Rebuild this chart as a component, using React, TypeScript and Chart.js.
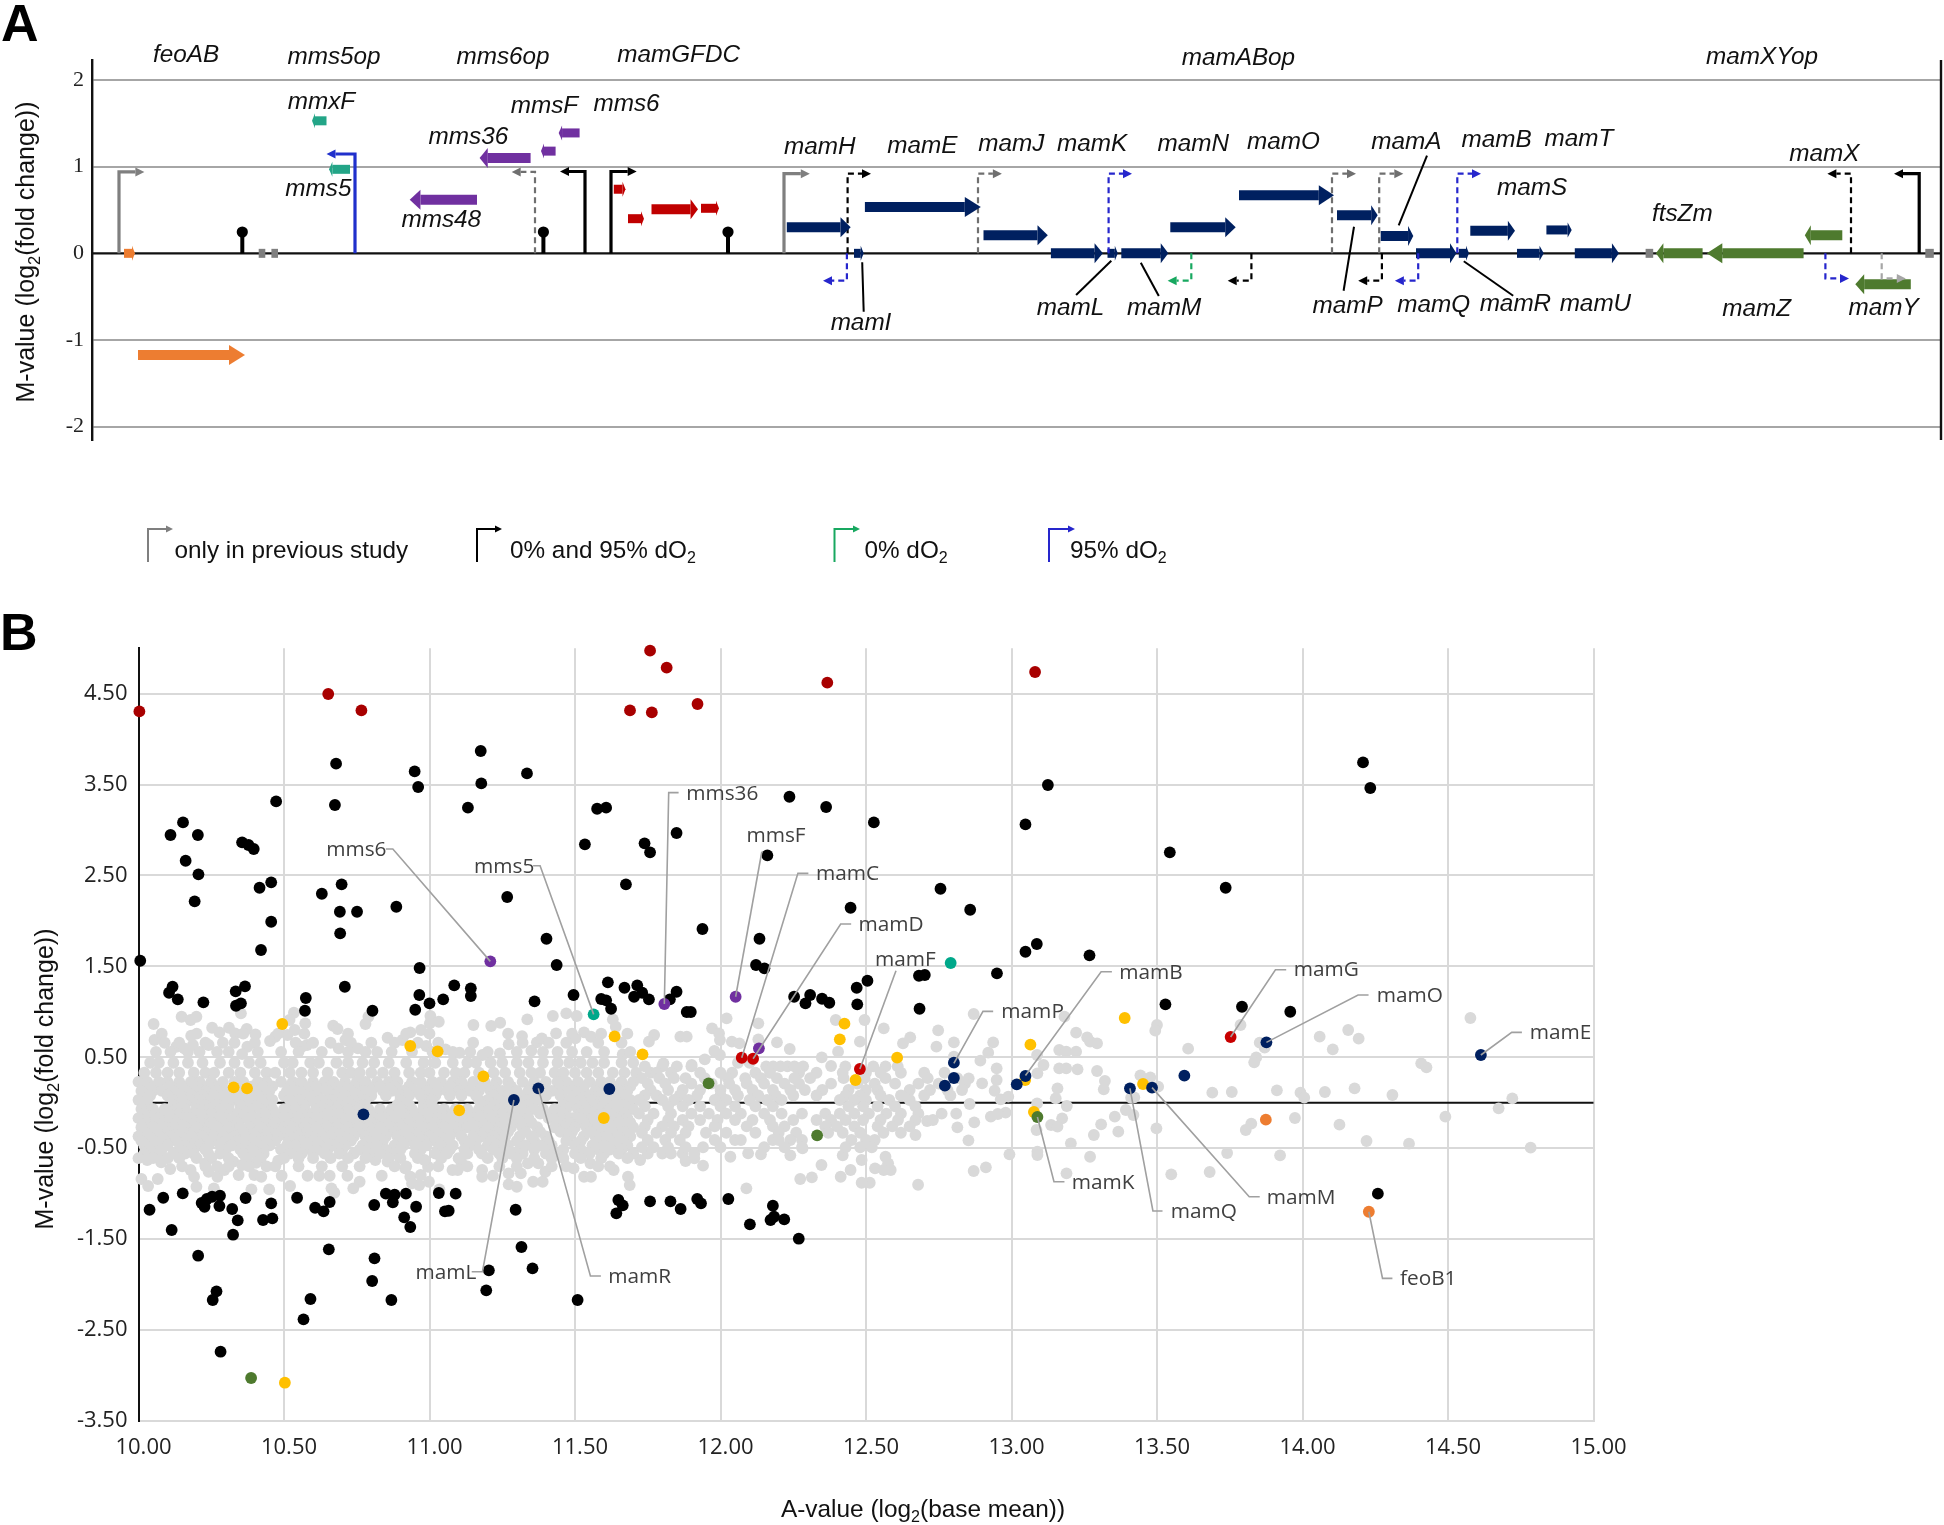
import { useEffect, useRef } from "react";
import { Chart, registerables } from "chart.js";

Chart.register(...registerables);

const W = 1944;
const H = 1525;
const SANS = '"Liberation Sans", Arial, sans-serif';
const CAL = '"Open Sans", sans-serif';

/* ---------- Panel A: locus position (arbitrary units), M-value ---------- */
const aTicks = [2, 1, 0, -1, -2];
const orangeGenes = [[32, 43, 0], [46, 153, -1.175]];
const tealGenes = [[234.5, 220, 1.53], [258, 237, 0.97]];
const purpleGenes = [[385, 317.7, 0.62], [438.6, 387.6, 1.1], [463.6, 449, 1.18], [487.6, 466.7, 1.39]];
const redGenes = [[521.8, 533.5, 0.74], [536, 552, 0.4], [559.5, 606, 0.51], [609, 627, 0.52]];
const navyGenes = [
  [694.8, 758.7, 0.3], [762, 771.7, 0], [772.9, 888.8, 0.535], [891.5, 955.8, 0.21], [958.9, 1010.9, 0],
  [1015.5, 1025.8, 0], [1029.3, 1076.3, 0], [1078.3, 1143.7, 0.3], [1147, 1242, 0.67], [1245, 1285.7, 0.44],
  [1288.7, 1321.3, 0.2], [1324, 1364.5, 0], [1366.8, 1377, 0], [1378.3, 1423, 0.26], [1425, 1451.8, 0],
  [1454.4, 1479.7, 0.27], [1482.8, 1527, 0],
];
const greenGenes = [[1610.6, 1563.9, 0], [1711.6, 1614.8, 0], [1750.3, 1712.8, 0.21], [1818.8, 1763.3, -0.358]];
const greyBlocks = [[166.7, 173.3], [179.4, 186], [1553.6, 1561.2], [1833.3, 1841.8]];
const solidPromoters = [
  [27, 0.94, 52.4, "#7f7f7f"], [263, 1.147, 234.5, "#2030cc"], [493, 0.945, 468, "#000000"],
  [519, 0.945, 544.7, "#000000"], [692, 0.92, 717.8, "#7f7f7f"], [1827.2, 0.92, 1802, "#000000"],
];
const dashedPromoters = [
  [443, 0.94, 419.7, "#6f6f6f"], [755.6, 0.92, 779, "#000000"], [754.9, -0.316, 731, "#2626cc"],
  [886, 0.92, 909.9, "#6f6f6f"], [1016.6, 0.92, 1040, "#2626cc"], [1099.3, -0.316, 1075.6, "#18a860"],
  [1159.4, -0.316, 1135.7, "#000000"], [1240, 0.92, 1264, "#6f6f6f"], [1287.2, 0.92, 1311.3, "#6f6f6f"],
  [1289.9, -0.316, 1266.2, "#000000"], [1326.2, -0.316, 1302.9, "#2626cc"], [1365.3, 0.92, 1389, "#2626cc"],
  [1759, 0.92, 1735.4, "#000000"], [1733.4, -0.29, 1757, "#2626cc"], [1789.7, -0.29, 1813.8, "#a6a6a6"],
];
const terminators = [150.3, 451.4, 636];
const geneLeaders = [
  [770.2, -0.104, 771.7, -0.674], [1019.3, -0.085, 984.1, -0.48], [1048.8, -0.108, 1066.8, -0.493],
  [1262, 0.307, 1251.6, -0.432], [1335, 1.127, 1306.7, 0.323], [1371.8, -0.092, 1421.2, -0.49],
];
const geneLabels = [
  ["feoAB", 186, 55], ["mms5op", 334, 57.5], ["mms6op", 503, 57.5], ["mamGFDC", 678.6, 55], ["mamABop", 1238.4, 58],
  ["mamXYop", 1762, 57.5], ["mmxF", 321.4, 102], ["mmsF", 544.4, 106], ["mms6", 626.5, 104], ["mms36", 468.4, 137],
  ["mms5", 318.4, 189.5], ["mms48", 441.3, 220], ["mamH", 819.7, 147], ["mamE", 922.3, 146.5], ["mamJ", 1011.4, 144.5],
  ["mamK", 1092.2, 144], ["mamN", 1193.2, 144], ["mamO", 1283.5, 142], ["mamA", 1406.4, 142], ["mamB", 1496.7, 140.5],
  ["mamT", 1579, 139.5], ["mamS", 1532, 188.5], ["mamX", 1824.3, 154.5], ["ftsZm", 1682.3, 214], ["mamI", 861, 323.5],
  ["mamL", 1070.4, 308.5], ["mamM", 1164.1, 308], ["mamP", 1347.6, 306], ["mamQ", 1433.6, 305], ["mamR", 1515.4, 304.5],
  ["mamU", 1595.4, 304.5], ["mamZ", 1756.6, 309.5], ["mamY", 1883.6, 308],
];

/* ---------- Panel B: A-value, M-value ---------- */
const bXTicks = [10, 10.5, 11, 11.5, 12, 12.5, 13, 13.5, 14, 14.5, 15];
const bYTicks = [4.5, 3.5, 2.5, 1.5, 0.5, -0.5, -1.5, -2.5, -3.5];

const blackPoints = [
  [10.006,1.562],[10.117,1.276],[10.105,1.21],[10.135,1.137],[10.223,1.104],[10.11,2.945],[10.153,3.084],[10.204,2.945],[10.162,2.662],[10.206,2.512],[10.193,2.215],
  [10.334,1.225],[10.366,1.28],[10.335,1.067],[10.352,1.093],[10.356,2.864],[10.378,2.835],[10.396,2.791],[10.473,3.315],[10.416,2.365],[10.456,2.424],[10.456,1.991],[10.421,1.68],
  [10.575,1.152],[10.572,1.012],[10.679,3.73],[10.675,3.275],[10.63,2.299],[10.698,2.402],[10.692,2.101],[10.751,2.101],[10.693,1.863],[10.709,1.276],[10.804,1.012],[10.886,2.156],
  [10.949,3.645],[10.961,3.473],[10.966,1.482],[10.965,1.185],[10.951,1.023],[11,1.093],[11.047,1.137],[11.085,1.291],[11.142,1.258],[11.142,1.174],[11.132,3.246],[11.176,3.869],[11.178,3.513],
  [11.335,3.623],[11.267,2.263],[11.402,1.804],[11.437,1.515],[11.361,1.115],[11.495,1.185],[11.534,2.842],[11.576,3.234],[11.607,3.246],[11.675,2.402],[11.739,2.853],[11.758,2.754],
  [11.613,1.324],[11.59,1.141],[11.607,1.126],[11.624,1.034],[11.67,1.265],[11.714,1.291],[11.731,1.21],[11.703,1.166],[11.754,1.137],
  [11.849,2.967],[12.237,3.366],[12.363,3.253],[12.527,3.084],[13.125,3.495],[13.048,3.062],[13.544,2.754],[12.756,2.354],[12.858,2.123],[12.447,2.145],[12.161,2.721],[11.938,1.911],
  [12.134,1.804],[12.122,1.515],[12.151,1.478],[13.087,1.746],[13.048,1.661],[13.268,1.621],[12.95,1.423],[12.682,1.397],[12.702,1.405],[12.505,1.342],[12.468,1.265],[12.47,1.082],[12.684,1.034],
  [12.308,1.185],[12.253,1.166],[12.292,1.093],[12.349,1.144],[12.374,1.1],[11.849,1.221],[11.826,1.137],[11.884,0.998],[11.898,0.998],[13.529,1.082],
  [14.208,3.744],[14.233,3.462],[13.736,2.365],[13.792,1.056],[13.958,1.001],[14.259,-1.0],
  [10.038,-1.177],[10.085,-1.045],[10.152,-0.997],[10.114,-1.4],[10.217,-1.103],[10.227,-1.144],[10.235,-1.059],[10.253,-1.034],[10.28,-1.023],[10.278,-1.136],[10.322,-1.169],[10.368,-1.048],
  [10.341,-1.294],[10.325,-1.452],[10.428,-1.29],[10.46,-1.272],[10.456,-1.107],[10.205,-1.683],[10.268,-2.075],[10.255,-2.17],[10.282,-2.739],[10.545,-1.045],[10.607,-1.155],[10.636,-1.195],
  [10.657,-1.092],[10.654,-1.613],[10.591,-2.159],[10.567,-2.383],[10.81,-1.125],[10.85,-1.0],[10.88,-1.012],[10.874,-1.096],[10.919,-1.0],[10.954,-1.144],[10.913,-1.261],[10.934,-1.367],
  [10.811,-1.712],[10.803,-1.961],[10.869,-2.17],[11.032,-0.993],[11.09,-1.0],[11.053,-1.195],[11.066,-1.188],[11.296,-1.177],[11.316,-1.587],[11.354,-1.822],[11.204,-1.844],[11.195,-2.064],[11.509,-2.17],
  [11.649,-1.07],[11.664,-1.129],[11.642,-1.217],[11.758,-1.085],[11.828,-1.085],[11.863,-1.169],[11.92,-1.059],[11.933,-1.107],[12.027,-1.059],[12.101,-1.338],[12.18,-1.133],[12.184,-1.254],[12.172,-1.29],[12.219,-1.283],[12.269,-1.496],
];
const darkRedPoints = [[10.003,4.305],[10.652,4.496],[10.766,4.316],[11.689,4.316],[11.758,4.973],[11.764,4.294],[11.815,4.786],[11.921,4.386],[12.367,4.621],[13.081,4.738]];
const redPoints = [[12.073,0.495],[12.112,0.484],[12.479,0.371],[13.753,0.723]];
const goldPoints = [
  [10.494,0.866],[10.934,0.624],[11.028,0.565],[11.636,0.73],[11.732,0.532],[11.185,0.29],[10.327,0.169],[10.373,0.158],[11.102,-0.084],[11.599,-0.168],[10.503,-3.08],
  [12.426,0.87],[12.41,0.697],[12.607,0.496],[12.464,0.25],[13.065,0.639],[13.389,0.932],[13.047,0.25],[13.077,-0.102],[13.452,0.206],
];
const navyPoints = [[10.773,-0.128],[11.29,0.03],[11.374,0.158],[11.618,0.151],[12.802,0.441],[12.802,0.272],[12.771,0.188],[13.018,0.202],[13.048,0.294],[13.407,0.158],[13.483,0.166],[13.594,0.298],[13.876,0.664],[14.613,0.525]];
const purplePoints = [[11.209,1.555],[11.807,1.086],[12.052,1.166],[12.132,0.598]];
const tealPoints = [[11.564,0.972],[12.791,1.537]];
const greenPoints = [[11.959,0.213],[12.332,-0.359],[13.089,-0.157],[10.387,-3.028]];
const orangePoints = [[13.874,-0.186],[14.228,-1.199]];

const greySparse = [
  [14.577,0.932],[14.059,0.727],[14.157,0.8],[14.193,0.705],[14.104,0.587],[13.5,0.855],[13.494,0.793],[13.607,0.595],[13.787,0.855],[13.853,0.661],[13.87,0.606],[13.841,0.499],[13.834,0.444],[14.408,0.433],[14.426,0.389],
  [13.69,0.111],[13.757,0.118],[13.912,0.136],[13.993,0.111],[14.006,0.056],[14.077,0.118],[14.179,0.158],[14.309,0.085],[14.721,0.048],[14.674,-0.062],[14.491,-0.153],[14.127,-0.241],[13.974,-0.168],[13.824,-0.23],[13.805,-0.3],
  [14.22,-0.421],[14.366,-0.45],[14.784,-0.494],[13.923,-0.579],[13.741,-0.553],[13.681,-0.762],[13.549,-0.788],[13.498,-0.282],[13.419,-0.135],[13.443,0.301],[13.477,0.279],[13.504,0.177],[13.422,0.059],
  [12.87,0.976],[13.182,0.947],[12.748,0.796],[12.652,0.719],[12.627,0.653],[12.742,0.617],[12.802,0.664],[12.802,0.507],[12.937,0.664],[12.92,0.551],[12.893,0.463],[12.949,0.378],[12.949,0.25],[12.853,0.268],[12.899,0.213],[12.942,0.132],
  [13.222,0.771],[13.26,0.719],[13.27,0.672],[13.294,0.653],[13.164,0.58],[13.188,0.562],[13.222,0.562],[13.164,0.378],[13.188,0.378],[13.227,0.367],[13.294,0.349],[13.321,0.239],[13.317,0.147],[13.088,0.525],[13.11,0.415],[13.089,0.323],
  [13.158,0.158],[13.152,0.048],[13.088,-0.007],[13.19,-0.036],[13.174,-0.172],[13.136,-0.245],[13.158,-0.263],[13.086,-0.3],[13.355,-0.153],[13.308,-0.238],[13.283,-0.355],[13.367,-0.318],[13.204,-0.447],[13.27,-0.594],[13.089,-0.538],[13.089,-0.575],
  [12.993,-0.568],[12.912,-0.711],[12.87,-0.751],[13.189,-0.777],[12.98,-0.109],[12.953,-0.124],[12.929,-0.153],[12.989,0.067],[12.963,0.037],[12.856,-0.014],[12.814,-0.271],[12.872,-0.216],[12.852,-0.414],[12.71,-0.201],[12.67,-0.355],[12.679,-0.902],
  [12.567,-0.594],[12.576,-0.667],[12.531,-0.722],[12.561,-0.74],[12.585,-0.74],[12.513,-0.88],[12.485,-0.88],[12.485,-0.63],[12.447,-0.74],[12.413,-0.814],[12.347,-0.685],[12.42,-0.579],[12.314,-0.821],[12.274,-0.839],[12.282,-0.502],[12.24,-0.579],
  [12.089,-0.942],[12.139,-0.568],[12.095,-0.557],[12.034,-0.594],[11.94,-0.692],[11.91,-0.612],[11.88,-0.641],[13.411,0.055],[13.393,-0.08],
  [12.021,0.928],[11.971,0.818],[11.995,0.763],[11.998,0.69],[11.772,0.745],[11.754,0.672],[11.862,0.727],[11.884,0.727],[12.13,0.873],[12.13,0.697],[12.194,0.664],[12.039,0.672],[12.065,0.653],[12.238,0.591],[11.979,0.569],[11.998,0.525],[11.946,0.477],[11.901,0.415],[11.804,0.433],
  [12.396,0.91],[12.495,0.91],[12.561,0.818],[12.479,0.672],[12.404,0.562],[12.348,0.499],[12.38,0.404],
  [10.052,0.866],[10.148,0.946],[10.179,0.91],[10.199,0.946],[10.352,0.983],[10.534,0.99],[10.519,0.91],[10.573,0.873],[10.669,0.847],[10.684,0.811],[10.79,0.946],[10.78,0.866],[10.253,0.825],[10.278,0.774],[10.311,0.825],[10.332,0.763],[10.372,0.811],[10.402,0.752],
  [10.055,0.69],[10.181,0.737],[11.003,0.954],[11.032,0.891],[11.001,0.873],[10.971,0.8],[10.934,0.774],[10.907,0.69],[10.856,0.715],[11.151,0.855],[11.212,0.844],[11.243,0.88],[11.336,0.917],[11.424,0.954],[11.47,0.983],[11.506,0.954],[11.63,0.917],[11.64,0.836],
  [11.318,0.733],[11.531,0.774],[11.501,0.708],[11.435,0.763],[11.369,0.664],[11.386,0.708],[11.272,0.642],[11.555,0.726],[10.452,0.679],[10.47,0.726],[10.512,0.745],[10.537,0.8],[10.711,0.69],[10.754,0.598],[10.13,0.616],[10.157,0.598],[10.187,0.635],[10.241,0.635],
  [10.374,0.616],[10.356,0.535],[10.579,0.635],[10.561,0.616],[10.688,0.598],[10.989,0.624],[11.055,0.587],[11.103,0.55],[11.182,0.525],[11.242,0.543],[11.35,0.572],[11.664,0.532],
  [10.01,-0.839],[10.033,-0.916],[10.066,-0.839],[10.03,-0.63],[10.078,-0.656],[10.109,-0.729],[10.179,-0.74],[10.191,-0.814],[10.199,-0.924],[10.229,-0.667],[10.241,-0.759],[10.271,-0.814],[10.259,-0.942],[10.295,-0.74],[10.326,-0.648],[10.344,-0.795],[10.356,-0.685],
  [10.404,-0.66],[10.398,-0.795],[10.422,-0.814],[10.388,-0.953],[10.449,-0.953],[10.48,-0.637],[10.492,-0.803],[10.521,-0.916],[10.581,-0.803],[10.621,-0.803],[10.657,-0.803],[10.663,-0.942],[10.673,-0.99],[10.718,-0.803],[10.76,-0.869],[10.738,-0.942],[10.836,-0.803],
  [10.814,-0.63],[10.856,-0.648],[10.916,-0.722],[10.934,-0.814],[10.94,-0.887],[10.965,-0.906],[10.998,-0.869],[10.97,-0.795],[10.995,-0.704],[10.983,-0.63],[11.034,-0.953],[11.079,-0.74],[11.097,-0.74],[11.109,-0.648],[11.181,-0.74],[11.181,-0.814],[11.218,-0.803],
  [11.272,-0.777],[11.272,-0.898],[11.3,-0.924],[11.314,-0.777],[11.338,-0.667],[11.356,-0.869],[11.389,-0.869],[11.398,-0.759],[11.374,-0.667],[11.495,-0.722],[11.531,-0.814],[11.553,-0.667],[11.555,-0.814],[11.633,-0.74],[11.682,-0.814],[11.688,-0.906],[11.724,-0.63],
];
const greyRows = [
  [0.76, [10.08,10.2,10.36,10.48,10.57,10.72,10.92,11.0,11.27,11.49,11.59,11.68]],
  [0.66, [10.09,10.14,10.23,10.29,10.33,10.4,10.54,10.6,10.66,10.73,10.8,10.88,10.96,11.03,11.15,11.32,11.41,11.47,11.58,11.66]],
  [0.56, [10.06,10.11,10.17,10.21,10.27,10.31,10.41,10.49,10.55,10.63,10.72,10.78,10.82,10.87,10.94,11.01,11.08,11.14,11.2,11.3,11.39,11.44,11.49,11.54,11.6,11.69]],
  [0.44, [10.04,10.07,10.12,10.17,10.22,10.28,10.33,10.38,10.42,10.5,10.53,10.59,10.62,10.68,10.72,10.77,10.81,10.86,10.92,10.98,11.02,11.08,11.13,11.16,11.21,11.25,11.3,11.34,11.39,11.44,11.48,11.52,11.56,11.6,11.66,11.7,12.06,12.1]],
  [0.33, [10.02,10.06,10.1,10.14,10.19,10.23,10.26,10.31,10.35,10.4,10.44,10.47,10.52,10.56,10.6,10.65,10.7,10.73,10.76,10.8,10.84,10.88,10.93,10.97,11,11.05,11.09,11.12,11.17,11.22,11.26,11.31,11.35,11.38,11.43,11.46,11.5,11.54,11.58,11.63,11.67,11.71,11.76]],
  [0.23, [10,10.03,10.07,10.1,10.14,10.18,10.21,10.25,10.29,10.33,10.36,10.41,10.44,10.49,10.53,10.56,10.6,10.64,10.67,10.71,10.75,10.78,10.82,10.86,10.89,10.94,10.97,11.01,11.04,11.08,11.11,11.15,11.19,11.23,11.27,11.32,11.36,11.4,11.44,11.47,11.51,11.55,11.59,11.62,11.66,11.7]],
  [0.18, [10.02,10.06,10.11,10.15,10.19,10.24,10.28,10.34,10.39,10.43,10.46,10.52,10.57,10.61,10.66,10.7,10.74,10.79,10.83,10.88,10.93,10.98,11.02,11.07,11.12,11.18,11.22,11.28,11.35,11.39,11.45,11.5,11.53,11.58,11.63,11.69]],
  [0.13, [10.01,10.05,10.08,10.12,10.16,10.2,10.23,10.27,10.31,10.35,10.38,10.42,10.45,10.51,10.54,10.58,10.62,10.65,10.69,10.73,10.77,10.8,10.84,10.87,10.91,10.95,10.99,11.03,11.06,11.1,11.14,11.17,11.21,11.25,11.3,11.34,11.38,11.42,11.46,11.49,11.53,11.57,11.61,11.65,11.68]],
  [0.08, [10.02,10.04,10.1,10.14,10.18,10.22,10.26,10.3,10.34,10.37,10.41,10.44,10.5,10.53,10.57,10.61,10.67,10.71,10.75,10.8,10.85,10.9,10.93,10.97,11.02,11.07,11.11,11.16,11.22,11.27,11.31,11.36,11.4,11.45,11.5,11.55,11.59,11.63,11.67]],
  [0.03, [10,10.03,10.12,10.15,10.18,10.21,10.25,10.28,10.32,10.36,10.39,10.43,10.46,10.52,10.55,10.59,10.63,10.66,10.7,10.74,10.78,10.9,10.98,11.01,11.17,11.2,11.24,11.33,11.37,11.46,11.48,11.52,11.56,11.6,11.64,11.69]],
  [-0.025, [10.03,10.12,10.16,10.2,10.23,10.27,10.31,10.35,10.38,10.42,10.45,10.53,10.57,10.61,10.65,10.69,10.73,10.77,10.89,10.93,10.98,11.0,11.18,11.22,11.26,11.3,11.34,11.46,11.5,11.53,11.57,11.61,11.65,11.67]],
  [-0.07, [10.01,10.05,10.09,10.13,10.16,10.2,10.24,10.28,10.31,10.35,10.39,10.42,10.46,10.5,10.54,10.57,10.61,10.64,10.68,10.72,10.76,10.79,10.83,10.87,10.9,10.94,10.98,11.02,11.05,11.09,11.13,11.17,11.21,11.24,11.28,11.32,11.36,11.39,11.43,11.47,11.51,11.54,11.58,11.62,11.66,11.7]],
  [-0.12, [10.02,10.06,10.1,10.14,10.17,10.21,10.25,10.29,10.34,10.38,10.43,10.47,10.51,10.56,10.6,10.65,10.69,10.73,10.78,10.82,10.86,10.91,10.95,10.99,11.04,11.08,11.12,11.16,11.2,11.25,11.29,11.33,11.38,11.42,11.46,11.52,11.55,11.59,11.63,11.67]],
  [-0.17, [10,10.04,10.07,10.11,10.15,10.18,10.22,10.26,10.3,10.33,10.37,10.41,10.44,10.48,10.52,10.55,10.59,10.63,10.66,10.7,10.74,10.77,10.81,10.85,10.88,10.92,10.96,11,11.03,11.07,11.11,11.15,11.19,11.22,11.26,11.3,11.34,11.41,11.45,11.49,11.52,11.56,11.6,11.64,11.68]],
  [-0.22, [10.03,10.06,10.1,10.13,10.17,10.21,10.25,10.29,10.34,10.39,10.43,10.47,10.51,10.54,10.58,10.62,10.67,10.71,10.75,10.8,10.84,10.89,10.93,10.97,11.02,11.06,11.1,11.14,11.18,11.23,11.27,11.31,11.35,11.44,11.48,11.53,11.57,11.61,11.65,11.69]],
  [-0.27, [10.01,10.05,10.09,10.12,10.16,10.2,10.24,10.27,10.31,10.35,10.38,10.42,10.46,10.5,10.53,10.57,10.61,10.65,10.68,10.72,10.76,10.79,10.83,10.87,10.9,10.94,10.98,11.01,11.05,11.09,11.13,11.17,11.2,11.24,11.28,11.32,11.37,11.43,11.47,11.5,11.54,11.58,11.62,11.66,11.7]],
  [-0.32, [10.02,10.06,10.1,10.15,10.19,10.23,10.28,10.32,10.36,10.41,10.45,10.49,10.54,10.58,10.62,10.67,10.71,10.75,10.8,10.84,10.88,10.93,10.97,11.02,11.06,11.1,11.16,11.19,11.23,11.27,11.33,11.38,11.45,11.49,11.55,11.59,11.63,11.67]],
  [-0.37, [10,10.03,10.07,10.11,10.14,10.18,10.22,10.26,10.29,10.33,10.37,10.4,10.44,10.48,10.52,10.55,10.59,10.63,10.66,10.7,10.74,10.78,10.81,10.85,10.89,10.92,10.96,11,11.03,11.07,11.11,11.15,11.18,11.22,11.26,11.31,11.35,11.4,11.48,11.53,11.57,11.61,11.65,11.69]],
  [-0.42, [10.01,10.05,10.09,10.13,10.17,10.2,10.25,10.3,10.34,10.39,10.43,10.47,10.53,10.56,10.6,10.64,10.69,10.73,10.79,10.84,10.9,10.94,10.98,11.02,11.06,11.12,11.16,11.21,11.25,11.3,11.36,11.41,11.47,11.52,11.58,11.62,11.67]],
  [-0.47, [10.02,10.06,10.1,10.16,10.21,10.24,10.28,10.32,10.37,10.41,10.45,10.51,10.54,10.58,10.62,10.67,10.71,10.77,10.82,10.88,10.91,10.95,10.99,11.04,11.08,11.14,11.2,11.23,11.27,11.33,11.38,11.42,11.5,11.56,11.6,11.64,11.68]],
  [-0.515, [10.04,10.08,10.14,10.18,10.23,10.3,10.35,10.39,10.43,10.49,10.53,10.57,10.61,10.65,10.7,10.76,10.8,10.85,10.9,10.97,11.03,11.07,11.12,11.17,11.22,11.26,11.31,11.36,11.41,11.46,11.52,11.58,11.62,11.66]],
  [-0.56, [10.02,10.07,10.12,10.16,10.19,10.24,10.28,10.36,10.4,10.43,10.52,10.56,10.6,10.64,10.69,10.74,10.79,10.83,10.88,10.95,11.02,11.06,11.13,11.18,11.24,11.28,11.32,11.4,11.44,11.5,11.55,11.6,11.65,11.7,11.75,11.8,11.83,11.87,11.91]],
  [-0.61, [10.0,10.05,10.1,10.14,10.2,10.25,10.31,10.37,10.42,10.5,10.55,10.6,10.66,10.72,10.78,10.86,10.9,10.96,11.04,11.1,11.2,11.25,11.3,11.36,11.42,11.46,11.52,11.59,11.68]],
  [-0.7, [10.15,10.23,10.27,10.31,10.38,10.44,10.47,10.55,10.63,10.7,10.76,10.88,10.92,11.03,11.13,11.24,11.3,11.42,11.47,11.58,11.62]],
  [0.4, [11.74,11.8,11.85,11.9,12.157,12.181,12.206,12.23,12.254,12.284,12.429,12.525,12.567,12.609]],
  [0.33, [11.78,11.83,11.93,12.0,12.04,12.12,12.17,12.27,12.33,12.42,12.5,12.55,12.62,12.7,12.77]],
  [0.27, [11.73,11.79,11.84,11.88,11.946,12.025,12.085,12.139,12.194,12.254,12.308,12.423,12.495,12.567,12.712,12.814]],
  [0.21, [11.75,11.81,11.9,11.97,12.03,12.09,12.15,12.22,12.27,12.38,12.47,12.53,12.6,12.68,12.75,12.84]],
  [0.14, [11.76,11.82,11.87,11.93,12,12.05,12.11,12.18,12.24,12.29,12.35,12.44,12.5,12.54,12.65,12.72,12.78,12.83]],
  [0.08, [11.74,11.78,11.86,11.92,12.0,12.06,12.13,12.19,12.25,12.33,12.43,12.48,12.55,12.62,12.7,12.79]],
  [0.03, [11.72,11.8,11.84,11.89,11.98,12.02,12.1,12.16,12.21,12.41,12.46,12.5,12.58,12.65]],
  [-0.04, [11.74,11.82,11.87,11.93,12.0,12.05,12.12,12.18,12.44,12.49,12.54,12.6,12.67]],
  [-0.12, [11.72,11.77,11.83,11.9,11.96,12.02,12.07,12.15,12.21,12.28,12.36,12.41,12.46,12.51,12.57,12.62,12.68,12.76,12.81]],
  [-0.19, [11.75,11.82,11.87,11.93,11.99,12.05,12.11,12.17,12.25,12.33,12.38,12.43,12.49,12.55,12.61,12.67,12.73]],
  [-0.26, [11.74,11.8,11.84,11.89,11.98,12.09,12.18,12.22,12.36,12.4,12.46,12.54,12.59,12.65]],
  [-0.33, [11.73,11.78,11.83,11.88,11.95,12.02,12.12,12.2,12.26,12.37,12.42,12.48,12.56,12.62]],
  [-0.41, [11.75,11.81,11.86,11.98,12.05,12.07,12.18,12.2,12.24,12.28,12.45,12.5,12.53]],
  [-0.49, [11.73,11.77,11.82,11.88,11.94,12.0,12.15,12.22,12.28,12.43,12.48,12.52]],
];
const calloutLeaders = [
  [[10.85,2.791],[10.874,2.791],[11.209,1.555]], [[11.356,2.607],[11.38,2.607],[11.564,0.972]],
  [[11.856,3.411],[11.822,3.411],[11.807,1.086]], [[12.142,2.761],[12.052,1.166]],
  [[12.302,2.523],[12.266,2.523],[12.073,0.495]], [[12.449,1.966],[12.413,1.966],[12.112,0.484]],
  [[12.603,1.452],[12.479,0.371]], [[12.937,1.005],[12.902,1.005],[12.802,0.433]],
  [[13.345,1.441],[13.308,1.441],[13.048,0.3]], [[13.944,1.463],[13.907,1.463],[13.753,0.723]],
  [[14.227,1.185],[14.191,1.185],[13.876,0.664]], [[14.754,0.774],[14.719,0.774],[14.613,0.525]],
  [[13.089,-0.157],[13.146,-0.869],[13.182,-0.869]], [[13.407,0.158],[13.486,-1.191],[13.519,-1.191]],
  [[13.483,0.166],[13.817,-1.034],[13.853,-1.034]], [[14.228,-1.199],[14.275,-1.932],[14.309,-1.932]],
  [[11.29,0.03],[11.182,-1.859],[11.145,-1.859]], [[11.374,0.158],[11.553,-1.906],[11.589,-1.906]],
];
const calloutLabels = [
  ["mms6",10.645,2.791],["mms5",11.153,2.607],["mms36",11.882,3.411],["mmsF",12.089,2.945],["mamC",12.328,2.523],["mamD",12.474,1.966],
  ["mamF",12.531,1.577],["mamP",12.965,1.005],["mamB",13.37,1.441],["mamG",13.97,1.467],["mamO",14.255,1.185],["mamE",14.781,0.774],
  ["mamK",13.207,-0.869],["mamQ",13.547,-1.191],["mamM",13.877,-1.034],["feoB1",14.335,-1.932],["mamL",10.952,-1.859],["mamR",11.614,-1.906],
];

/* ---------- helpers ---------- */
function toXY(list: number[][]) {
  return list.map(([x, y]) => ({ x, y }));
}

function drawRuns(ctx: any, runs: [string, boolean][], x: number, y: number, size: number, family: string, center = false) {
  const sub = size * 0.66;
  let total = 0;
  for (const [t, s] of runs) {
    ctx.font = `${s ? sub : size}px ${family}`;
    total += ctx.measureText(t).width;
  }
  let cx = center ? x - total / 2 : x;
  ctx.textAlign = "left";
  ctx.textBaseline = "alphabetic";
  for (const [t, s] of runs) {
    ctx.font = `${s ? sub : size}px ${family}`;
    ctx.fillText(t, cx, s ? y + size * 0.22 : y);
    cx += ctx.measureText(t).width;
  }
}

function geneDatasets(genes: number[][], color: string, order: number) {
  return genes.map(([tail, tip, m]) => {
    const len = Math.abs(tip - tail);
    const dir = tip > tail ? 1 : -1;
    const head = Math.min(16, Math.max(3, len * 0.16));
    return {
      data: [{ x: tail, y: m }, { x: tip - dir * head, y: m }],
      showLine: true, borderColor: color, borderWidth: len < 30 ? 9 : 10, borderCapStyle: "butt",
      pointRadius: 0, clip: false, order,
      head: { tipX: tip, y: m, len: head, half: len < 30 ? 7.5 : 10, color },
    };
  });
}

function promoterDatasets(list: any[], dashed: boolean, order: number) {
  return list.map(([x, h, tip, color]) => {
    const dir = tip > x ? 1 : -1;
    return {
      data: [{ x, y: 0 }, { x, y: h }, { x: tip - dir * 9, y: h }],
      showLine: true, borderColor: color, borderWidth: dashed ? 2.2 : 3.2,
      borderDash: dashed ? [6, 4] : [], borderJoinStyle: "miter", borderCapStyle: "butt",
      pointRadius: 0, tension: 0, clip: false, order,
      head: { tipX: tip, y: h, len: 9, half: 4.5, color },
    };
  });
}

const arrowHeads = {
  id: "arrowHeads",
  afterDatasetsDraw(chart: any) {
    const { ctx, scales } = chart;
    ctx.save();
    chart.data.datasets.forEach((d: any) => {
      if (!d.head) return;
      const { tipX, y, half, color } = d.head;
      const px = scales.x.getPixelForValue(tipX);
      const py = scales.y.getPixelForValue(y);
      const last = d.data[d.data.length - 1];
      const base = scales.x.getPixelForValue(last.x);
      ctx.fillStyle = color;
      ctx.beginPath();
      ctx.moveTo(px, py);
      ctx.lineTo(base, py - half);
      ctx.lineTo(base, py + half);
      ctx.closePath();
      ctx.fill();
    });
    ctx.restore();
  },
};

const legendEntries: any[] = [
  [148, 173, "#7f7f7f", [["only in previous study", false]], 174.5],
  [477, 502, "#000000", [["0% and 95% dO", false], ["2", true]], 510],
  [834.5, 860, "#18a860", [["0% dO", false], ["2", true]], 864.5],
  [1049, 1075, "#2626cc", [["95% dO", false], ["2", true]], 1070],
];

const panelADecor = {
  id: "panelADecor",
  afterDraw(chart: any) {
    const { ctx } = chart;
    ctx.save();
    ctx.fillStyle = "#000";
    ctx.font = `bold 52px ${SANS}`;
    ctx.textAlign = "left";
    ctx.textBaseline = "alphabetic";
    ctx.fillText("A", 1, 41);

    ctx.fillStyle = "#111";
    ctx.font = `italic 24.3px ${SANS}`;
    ctx.textAlign = "center";
    ctx.textBaseline = "middle";
    for (const [t, x, y] of geneLabels as any[]) ctx.fillText(t, x, y);

    ctx.save();
    ctx.translate(34, 252);
    ctx.rotate(-Math.PI / 2);
    ctx.fillStyle = "#111";
    drawRuns(ctx, [["M-value (log", false], ["2", true], ["(fold change))", false]], 0, 0, 25, SANS, true);
    ctx.restore();

    for (const [x0, x1, color, runs, tx] of legendEntries) {
      ctx.strokeStyle = color;
      ctx.lineWidth = 2;
      ctx.beginPath();
      ctx.moveTo(x0, 562);
      ctx.lineTo(x0, 529);
      ctx.lineTo(x1 - 6, 529);
      ctx.stroke();
      ctx.fillStyle = color;
      ctx.beginPath();
      ctx.moveTo(x1, 529);
      ctx.lineTo(x1 - 7, 525.5);
      ctx.lineTo(x1 - 7, 532.5);
      ctx.closePath();
      ctx.fill();
      ctx.fillStyle = "#111";
      drawRuns(ctx, runs, tx, 558, 24.3, SANS);
    }
    ctx.restore();
  },
};

const panelBDecor = {
  id: "panelBDecor",
  afterDraw(chart: any) {
    const { ctx, scales } = chart;
    ctx.save();
    ctx.fillStyle = "#000";
    ctx.font = `bold 52px ${SANS}`;
    ctx.textAlign = "left";
    ctx.textBaseline = "alphabetic";
    ctx.fillText("B", 0, 650);

    ctx.fillStyle = "#404040";
    ctx.font = `20.8px ${CAL}`;
    ctx.textBaseline = "middle";
    for (const [t, x, y] of calloutLabels as any[]) {
      ctx.fillText(t, scales.x.getPixelForValue(x), scales.y.getPixelForValue(y) + 1);
    }

    ctx.fillStyle = "#111";
    drawRuns(ctx, [["A-value (log", false], ["2", true], ["(base mean))", false]], 923, 1517, 24.4, SANS, true);

    ctx.save();
    ctx.translate(53, 1079);
    ctx.rotate(-Math.PI / 2);
    drawRuns(ctx, [["M-value (log", false], ["2", true], ["(fold change))", false]], 0, 0, 25, SANS, true);
    ctx.restore();
    ctx.restore();
  },
};

function scatterSet(list: number[][], color: string, order: number) {
  return { data: toXY(list), backgroundColor: color, borderWidth: 0, pointRadius: 5.9, clip: false, order };
}

function lineSet(points: { x: number; y: number }[], color: string, width: number, order: number) {
  return { data: points, showLine: true, borderColor: color, borderWidth: width, borderCapStyle: "butt", pointRadius: 0, tension: 0, clip: false, order };
}

export default function App() {
  const refA = useRef<HTMLCanvasElement>(null);
  const refB = useRef<HTMLCanvasElement>(null);

  useEffect(() => {
    const LOCUS_MAX = 1849;
    const A_MIN = -2.155;
    const A_MAX = 2.232;

    const chartA = new Chart(refA.current as any, {
      type: "scatter",
      data: {
        datasets: [
          lineSet([{ x: 0, y: 0 }, { x: LOCUS_MAX, y: 0 }], "#111111", 2.4, 20),
          lineSet([{ x: LOCUS_MAX, y: A_MIN }, { x: LOCUS_MAX, y: A_MAX }], "#111111", 2.4, 5),
          ...geneDatasets(orangeGenes, "#ed7d31", 10),
          ...geneDatasets(tealGenes, "#23a587", 10),
          ...geneDatasets(purpleGenes, "#7030a0", 10),
          ...geneDatasets(redGenes, "#c00000", 10),
          ...geneDatasets(navyGenes, "#002060", 10),
          ...geneDatasets(greenGenes, "#4e7a2e", 10),
          ...greyBlocks.map(([a, b]) => lineSet([{ x: a, y: 0 }, { x: b, y: 0 }], "#7f7f7f", 9, 10)),
          ...promoterDatasets(solidPromoters, false, 8),
          ...promoterDatasets(dashedPromoters, true, 8),
          ...terminators.map((x) => ({
            ...lineSet([{ x, y: 0 }, { x, y: 0.246 }], "#000000", 4, 6),
            pointRadius: [0, 5.6], pointBackgroundColor: "#000000", pointBorderWidth: 0,
          })),
          ...geneLeaders.map(([a, b, c, d]) => lineSet([{ x: a, y: b }, { x: c, y: d }], "#000000", 2, 4)),
        ] as any,
      },
      options: {
        animation: false, responsive: false, devicePixelRatio: 1,
        layout: { autoPadding: false, padding: { left: 0, top: 60, right: W - 1941, bottom: H - 440 } },
        plugins: { legend: { display: false }, tooltip: { enabled: false }, title: { display: false } },
        scales: {
          x: { type: "linear", min: 0, max: LOCUS_MAX, display: false },
          y: {
            type: "linear", min: A_MIN, max: A_MAX,
            afterFit: (s: any) => { s.width = 92; },
            afterBuildTicks: (s: any) => { s.ticks = aTicks.map((value) => ({ value })); },
            grid: { color: (c: any) => (c.tick && c.tick.value === 0 ? "rgba(0,0,0,0)" : "#a6a6a6"), lineWidth: 2, drawTicks: false },
            border: { color: "#111111", width: 2.4 },
            ticks: { color: "#222222", padding: 8, font: { family: "Liberation Serif", size: 22 }, callback: (v: any) => String(v) },
          },
        },
      } as any,
      plugins: [arrowHeads, panelADecor],
    });

    const greyPoints = [...greySparse, ...greyRows.flatMap(([y, xs]: any) => xs.map((x: number) => [x, y]))];

    const chartB = new Chart(refB.current as any, {
      type: "scatter",
      data: {
        datasets: [
          lineSet([{ x: 10, y: 0 }, { x: 15, y: 0 }], "#111111", 2, 100),
          scatterSet(greyPoints, "#d9d9d9", 90),
          scatterSet(blackPoints, "#000000", 80),
          scatterSet(goldPoints, "#ffc000", 70),
          scatterSet(navyPoints, "#002060", 60),
          scatterSet(darkRedPoints, "#a80000", 60),
          scatterSet(redPoints, "#c80000", 60),
          scatterSet(purplePoints, "#7030a0", 60),
          scatterSet(tealPoints, "#00a88a", 60),
          scatterSet(greenPoints, "#4e7a2e", 60),
          scatterSet(orangePoints, "#ed7d31", 60),
          ...calloutLeaders.map((l) => lineSet(toXY(l), "#a0a0a0", 1.6, 10)),
        ] as any,
      },
      options: {
        animation: false, responsive: false, devicePixelRatio: 1,
        layout: { autoPadding: false, padding: { left: 0, top: 648.2, right: W - 1593.5, bottom: H - 1420.9 - 55 } },
        plugins: { legend: { display: false }, tooltip: { enabled: false }, title: { display: false } },
        scales: {
          x: {
            type: "linear", min: 10, max: 15,
            afterFit: (s: any) => { s.height = 55; },
            afterBuildTicks: (s: any) => { s.ticks = bXTicks.map((value) => ({ value })); },
            grid: { color: "#d9d9d9", lineWidth: 2, drawTicks: false },
            border: { color: "#d9d9d9", width: 2 },
            ticks: { color: "#222222", padding: 14, labelOffset: 5, maxRotation: 0, autoSkip: false, font: { family: "Open Sans", size: 22 }, callback: (v: any) => Number(v).toFixed(2) },
          },
          y: {
            type: "linear", min: -3.5, max: 5,
            afterFit: (s: any) => { s.width = 138.5; },
            afterBuildTicks: (s: any) => { s.ticks = bYTicks.map((value) => ({ value })); },
            grid: { color: "#d9d9d9", lineWidth: 2, drawTicks: false },
            border: { color: "#111111", width: 2 },
            ticks: { color: "#222222", padding: 11, font: { family: "Open Sans", size: 22 }, callback: (v: any) => Number(v).toFixed(2) },
          },
        },
      } as any,
      plugins: [panelBDecor],
    });

    return () => {
      chartA.destroy();
      chartB.destroy();
    };
  }, []);

  const style: any = { position: "absolute", left: 0, top: 0, width: W, height: H, display: "block" };
  return (
    <div>
      <canvas ref={refB} width={W} height={H} style={style} />
      <canvas ref={refA} width={W} height={H} style={style} />
    </div>
  );
}
